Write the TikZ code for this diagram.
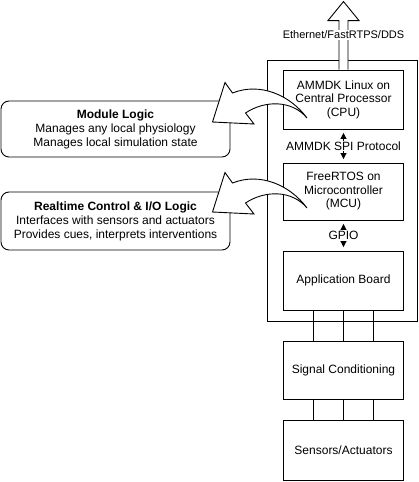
\documentclass[tikz,border=0pt]{standalone}
\usepackage{fontspec}
\setmainfont{Liberation Sans}
\usetikzlibrary{arrows.meta}
\begin{document}
\begin{tikzpicture}[x=1pt,y=-1pt,line width=0.9pt,
  blk/.style={draw,minimum width=120.5pt,align=center,font=\fontsize{12}{13.5}\selectfont},
  side/.style={draw,rounded corners=8pt,minimum width=229pt,align=center,font=\fontsize{12}{14}\selectfont},
  lbl/.style={fill=white,inner sep=1pt,font=\fontsize{12}{13.5}\selectfont},
  biarrow/.style={{Triangle[width=6pt,length=6pt]}-{Triangle[width=6pt,length=6pt]},shorten <=3.5pt,shorten >=3.5pt},
  hollow/.style={draw,fill=white,line join=miter}]
\useasboundingbox (0,0) rectangle (419,482);
% outer board frame
\node[draw,minimum width=150.5pt,minimum height=261pt,inner sep=0pt] (frame) at (342.5,190.5) {};
% blocks
\node[blk,minimum height=59pt] (cpu) at (343.5,99.5) {AMMDK Linux on\\Central Processor\\(CPU)};
\node[blk,minimum height=57pt] (mcu) at (343.5,191.5) {FreeRTOS on\\Microcontroller\\(MCU)};
\node[blk,minimum height=59pt] (app) at (343.5,280.5) {Application Board};
\node[blk,minimum height=58pt] (sig) at (343.5,370) {Signal Conditioning};
\node[blk,minimum height=60pt] (sen) at (343.5,450) {Sensors/Actuators};
% side boxes
\node[side,minimum height=56pt] (mod) at (115.5,129) {\textbf{Module Logic}\\Manages any local physiology\\Manages local simulation state};
\node[side,minimum height=58pt] (rt) at (115.5,221) {\textbf{Realtime Control \& I/O Logic}\\Interfaces with sensors and actuators\\Provides cues, interprets interventions};
% protocol arrows
\draw[biarrow] (cpu.south) -- (mcu.north) node[midway,lbl] (spi) {AMMDK SPI Protocol};
\draw[biarrow] (mcu.south) -- (app.north) node[midway,lbl] (gpio) {GPIO};
% wires
\foreach \dx in {-30,0,30}{
  \draw ([xshift=\dx pt]app.south) -- ([xshift=\dx pt]sig.north);
  \draw ([xshift=\dx pt]sig.south) -- ([xshift=\dx pt]sen.north);
}
% top hollow arrow
\draw[hollow] ([xshift=-4.5pt]cpu.north) -- ++(0,-49) -- ++(-11,0) -- ++(15.5,-19) -- ++(15.5,19) -- ++(-11,0) -- ([xshift=4.5pt]cpu.north);
\node[fill=white,inner sep=1pt,font=\fontsize{11}{13}\selectfont] (eth) at (343.5,35) {Ethernet/FastRTPS/DDS};
% curved hollow arrows
\foreach \dy/\nm in {0/a,90/b}{
  \begin{scope}[yshift=-\dy pt]
  \draw[hollow] (307,118) .. controls (290,95) and (260,82) .. (232.5,93) -- (225,82.5) -- (212.5,122) -- (254,124) -- (245.5,113) .. controls (265,100) and (292,100) .. (307,118) -- cycle;
  \end{scope}
}
\end{tikzpicture}
\end{document}
